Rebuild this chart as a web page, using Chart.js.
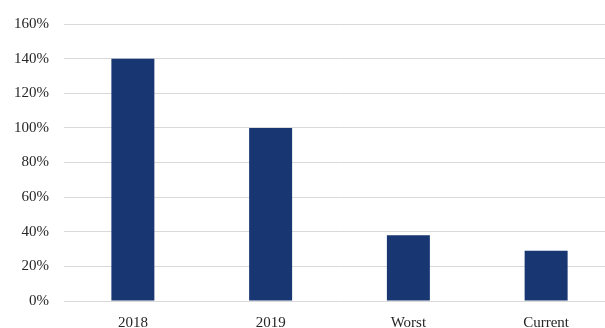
<!DOCTYPE html>
<html>
<head>
<meta charset="utf-8">
<script src="https://cdn.jsdelivr.net/npm/chart.js@4"></script>
<style>
html,body{margin:0;padding:0;background:#fff;overflow:hidden;width:605px;height:328px;}
#wrap{position:absolute;left:0;top:0;width:615px;height:328px;}
</style>
</head>
<body>
<div id="wrap"><canvas id="c" width="615" height="328"></canvas></div>
<script>
const categories = ["2018", "2019", "Worst", "Current"];
const values = [140, 100, 38, 29];
const yTicks = [0, 20, 40, 60, 80, 100, 120, 140, 160];

const font = {family: "'Liberation Serif', 'Times New Roman', serif", size: 15};
new Chart(document.getElementById('c'), {
  type: 'bar',
  data: {
    labels: categories,
    datasets: [{
      data: values,
      backgroundColor: '#173672',
      borderWidth: 0,
      barPercentage: 0.312,
      categoryPercentage: 1.0
    }]
  },
  options: {
    responsive: false,
    animation: false,
    devicePixelRatio: 1,
    layout: {padding: {top: 12, right: 0, left: 0, bottom: 0}},
    plugins: {legend: {display: false}, tooltip: {enabled: false}},
    scales: {
      x: {
        grid: {display: false},
        border: {display: false},
        ticks: {color: '#262626', font: font, padding: 5, maxRotation: 0},
        afterFit: s => { s.height = 27; }
      },
      y: {
        min: 0, max: 160,
        afterBuildTicks: s => { s.ticks = yTicks.map(v => ({value: v})); },
        grid: {color: '#d9d9d9', lineWidth: 1, drawTicks: false},
        border: {display: false},
        ticks: {color: '#262626', font: font, padding: 15, callback: v => v + '%'},
        afterFit: s => { s.width = 64; }
      }
    }
  }
});
</script>
</body>
</html>
